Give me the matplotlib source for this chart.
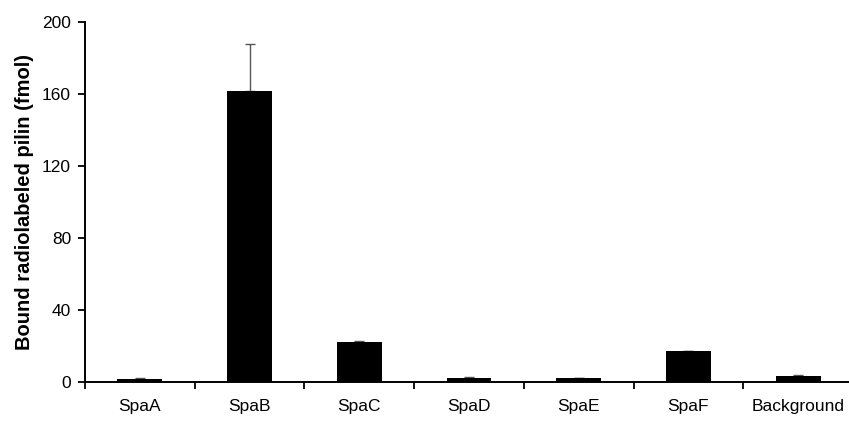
import matplotlib
matplotlib.use('Agg')
import matplotlib.pyplot as plt
import numpy as np

plt.rcParams['font.family'] = ['Liberation Sans', 'DejaVu Sans']

proteins = ['SpaA', 'SpaB', 'SpaC', 'SpaD', 'SpaE', 'SpaF', 'Background']
bound = [1.6, 161.5, 22.0, 2.0, 2.0, 17.1, 3.4]
errors = [0.5, 26.5, 0.8, 0.6, 0.3, 0.2, 0.7]

fig = plt.figure(figsize=(8.49, 4.22), dpi=100)
ax = fig.add_axes([85 / 849, 40 / 422, 768 / 849, 360 / 422])

x = np.arange(len(proteins))
ax.bar(x, bound, width=0.41, color='black', zorder=2)
ax.errorbar(x, bound, yerr=[np.zeros(len(errors)), errors], fmt='none',
            ecolor='#555555', elinewidth=1, capsize=3.5, capthick=1, zorder=1)

ax.set_xlim(-0.5, len(proteins) - 0.5)
ax.set_ylim(0, 200)
ax.set_yticks([0, 40, 80, 120, 160, 200])
ax.set_ylabel('Bound radiolabeled pilin (fmol)', fontsize=14.5, fontweight='bold', labelpad=6)

# category labels centred, ticks on the boundaries
ax.set_xticks(x)
ax.set_xticklabels(proteins, fontsize=12.5)
ax.tick_params(axis='x', which='major', length=0, pad=12)
ax.set_xticks(np.arange(len(proteins)) - 0.5, minor=True)
ax.tick_params(axis='x', which='minor', length=5, width=1.3, direction='out')
ax.tick_params(axis='y', length=5, width=1.3, labelsize=12.5, pad=5)

for side in ['top', 'right']:
    ax.spines[side].set_visible(False)
for side in ['left', 'bottom']:
    ax.spines[side].set_linewidth(1.4)

fig.savefig('out.png', dpi=100)
